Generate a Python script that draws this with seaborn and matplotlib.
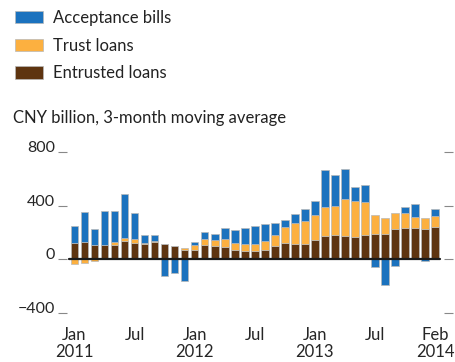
import numpy as np
import pandas as pd
import matplotlib
matplotlib.use("Agg")
import matplotlib.pyplot as plt
import seaborn as sns
from matplotlib.patches import Patch

# monthly data, Jan 2011 .. Jan 2014 (CNY billion, 3-month moving average)
months = pd.date_range("2011-01-01", periods=37, freq="MS").strftime("%Y-%m").tolist()
entrusted = [121, 129, 104, 106, 109, 137, 124, 117, 126, 116, 96, 68,
             73, 109, 101, 89, 71, 63, 63, 73, 101, 121, 111, 116,
             142, 177, 185, 172, 167, 185, 192, 192, 225, 233, 230, 223, 238]
trust = [-35, -28, -10, 0, 20, 22, 28, 5, 8, 0, 0, 18,
         36, 40, 41, 60, 50, 51, 51, 66, 84, 122, 157, 172,
         192, 215, 215, 276, 268, 240, 137, 114, 119, 116, 89, 83, 86]
acceptance = [124, 223, 121, 256, 230, 327, 192, 60, 51, -121, -104, -164,
              17, 56, 45, 81, 97, 121, 131, 124, 86, 53, 68, 86,
              99, 271, 225, 225, 106, 132, -56, -190, -48, 41, 93, -15, 50]

tick_pos = [0, 6, 12, 18, 24, 30, 36]
tick_labels = ["Jan\n2011", "Jul", "Jan\n2012", "Jul", "Jan\n2013", "Jul", "Feb\n2014"]
y_ticks = [-400, 0, 400, 800]

colours = {"Acceptance bills": "#1b72be",
           "Trust loans": "#fcb040",
           "Entrusted loans": "#5e3410"}

sns.set_style("white")
plt.rcParams["font.family"] = ["Lato", "DejaVu Sans"]
plt.rcParams["text.color"] = "#222222"

fig = plt.figure(figsize=(4.55, 3.62), dpi=100)
ax = fig.add_axes([67 / 455, 49 / 362, 377 / 455, 161 / 362])

# stack positives upwards and negatives downwards, in drawing order
pos_base = np.zeros(len(months))
neg_base = np.zeros(len(months))
for name, vals in [("Entrusted loans", entrusted), ("Trust loans", trust), ("Acceptance bills", acceptance)]:
    vals = np.array(vals, dtype=float)
    bottom = np.where(vals >= 0, pos_base, neg_base)
    sns.barplot(x=months, y=vals, bottom=bottom, color=colours[name], saturation=1,
                width=0.76, errorbar=None, edgecolor="#b8b8b8", linewidth=0.5, ax=ax)
    pos_base = pos_base + np.clip(vals, 0, None)
    neg_base = neg_base + np.clip(vals, None, 0)

ax.plot([-0.6, 36.5], [0, 0], color="#1a1a1a", lw=1.6, zorder=5)

ax.set_xlim(-0.75, 36.9)
ax.set_ylim(-400, 800)
ax.set_xticks(tick_pos)
ax.set_xticklabels(tick_labels, fontsize=12, linespacing=1.05)
ax.set_yticks(y_ticks)
ax.set_yticklabels([str(v).replace("-", "\u2212") for v in y_ticks], fontsize=11.5)
for lab in ax.get_yticklabels():
    lab.set_va("baseline")
ax.tick_params(axis="x", length=0, pad=10)
ax.tick_params(axis="y", direction="out", length=6.5, width=0.8, color="#888888",
               left=True, right=True, labelright=False, pad=2)
ax.set_xlabel("")
ax.set_ylabel("")
for s in ax.spines.values():
    s.set_visible(False)

handles = [Patch(facecolor=colours[n], edgecolor="#b8b8b8", linewidth=0.5)
           for n in ["Acceptance bills", "Trust loans", "Entrusted loans"]]
fig.legend(handles, ["Acceptance bills", "Trust loans", "Entrusted loans"],
           loc="upper left", bbox_to_anchor=(15 / 455, 1 - 10 / 362), frameon=False,
           fontsize=12, handlelength=1.7, handleheight=0.75, handletextpad=0.6,
           labelspacing=0.7, borderpad=0, borderaxespad=0)

fig.text(13 / 455, 1 - 118 / 362, "CNY billion, 3-month moving average", fontsize=12, va="center")

fig.savefig("out.png", dpi=100)
